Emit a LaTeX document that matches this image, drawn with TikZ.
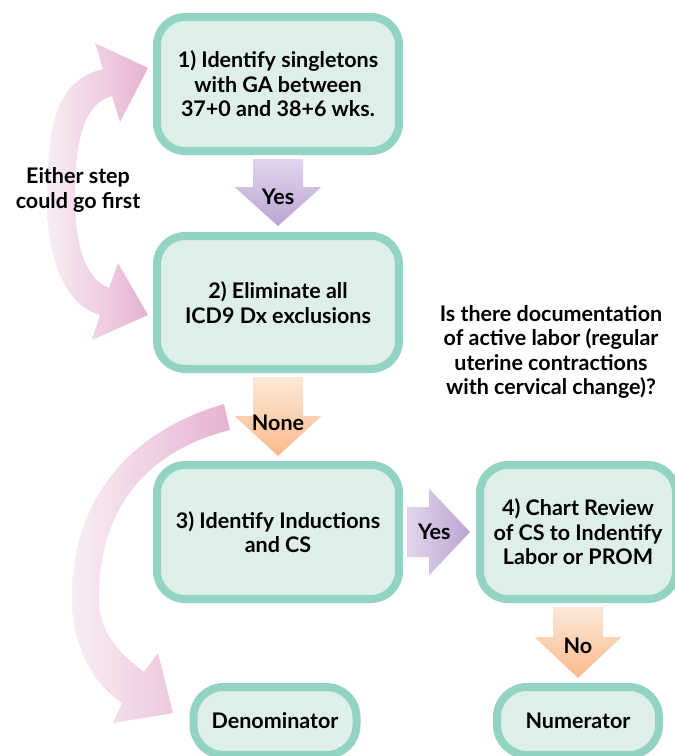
\documentclass[tikz,border=0pt]{standalone}
\usepackage{fontspec}
\setmainfont{Lato}
\usetikzlibrary{calc}

\definecolor{boxfill}{HTML}{DEEFE8}
\definecolor{boxline}{HTML}{93D3C3}
\definecolor{purpletop}{HTML}{E1D5EB}
\definecolor{purplebot}{HTML}{BBA4D2}
\definecolor{orangetop}{HTML}{FDE8D8}
\definecolor{orangebot}{HTML}{F9BA8A}
\definecolor{pinklight}{HTML}{F8EDF4}
\definecolor{pinkdark}{HTML}{E6B2D3}

\newcommand{\flowfont}{\fontsize{21.5}{24.5}\selectfont\bfseries}

\tikzset{
  stepbox/.style={draw=boxline, fill=boxfill, line width=8pt, rounded corners=28pt,
    inner sep=0pt, align=center, font=\flowfont},
  endbox/.style={stepbox, rounded corners=30pt},
  flowlabel/.style={align=center, font=\flowfont, inner sep=0pt}
}

\begin{document}
\begin{tikzpicture}[x=1pt, y=-1pt]
  \useasboundingbox (0,0) rectangle (675,756);
  \clip (0,0) rectangle (675,756);

  % steps
  \node[stepbox, minimum width=242pt, minimum height=134pt] (b1) at (278,84)
    {1) Identify singletons\\with GA between\\37+0 and 38+6 wks.};
  \node[stepbox, minimum width=242pt, minimum height=133pt] (b2) at (278,302.5)
    {2) Eliminate all\\ICD9 Dx exclusions};
  \node[stepbox, minimum width=242pt, minimum height=134pt] (b3) at (278,532)
    {3) Identify Inductions\\and CS};
  \node[stepbox, minimum width=196pt, minimum height=134pt] (b4) at (578,532)
    {4) Chart Review\\of CS to Indentify\\Labor or PROM};
  \node[endbox, minimum width=163pt, minimum height=68pt] (den) at (275,721) {Denominator};
  \node[endbox, minimum width=162pt, minimum height=68pt] (num) at (578,721) {Numerator};

  % block arrows between the steps
  \shade[top color=purpletop, bottom color=purplebot]
    ($(b1.south)+(-25,4)$) -- ++(0,28) -- ++(-18.5,0) -- ($(b2.north)+(0,-6)$)
    -- ($(b1.south)+(43.5,32)$) -- ++(-18.5,0) -- ($(b1.south)+(25,4)$) -- cycle;
  \shade[top color=orangetop, bottom color=orangebot]
    ($(b2.south)+(-25,4)$) -- ++(0,39) -- ++(-18.5,0) -- ($(b3.north)+(0,-5)$)
    -- ($(b2.south)+(43.5,43)$) -- ++(-18.5,0) -- ($(b2.south)+(25,4)$) -- cycle;
  \shade[left color=purpletop, right color=purplebot]
    ($(b3.east)+(4,-25)$) -- ++(22,0) -- ++(0,-18.5) -- ($(b4.west)+(-6,0)$)
    -- ($(b3.east)+(26,43.5)$) -- ++(0,-18.5) -- ($(b3.east)+(4,25)$) -- cycle;
  \shade[top color=orangetop, bottom color=orangebot]
    ($(b4.south)+(-25,4)$) -- ++(0,30) -- ++(-18.5,0) -- ($(num.north)+(0,-5)$)
    -- ($(b4.south)+(43.5,34)$) -- ++(-18.5,0) -- ($(b4.south)+(25,4)$) -- cycle;

  \node[flowlabel] (yes1) at ($(b1.south)!0.54!(b2.north)$) {Yes};
  \node[flowlabel] (none) at ($(b2.south)!0.57!(b3.north)$) {None};
  \node[flowlabel] (yes2) at ($(b3.east)!0.43!(b4.west)$) {Yes};
  \node[flowlabel] (no) at ($(b4.south)!0.53!(num.north)$) {No};

  % curved arrows on the left
  \shade[left color=pinklight, right color=pinkdark]
    (103,69) -- (95,43) -- (148,68) -- (120,122) -- (112,96)
    .. controls (85,104) and (75,135) .. (75,200)
    .. controls (75,250) and (88,280) .. (109,288)
    -- (118,263) -- (148,315) -- (92,340) -- (100,315)
    .. controls (65,305) and (47,260) .. (47,200)
    .. controls (47,115) and (60,80) .. (103,69) -- cycle;
  \shade[left color=pinklight, right color=pinkdark]
    (224,404) .. controls (140,428) and (72,490) .. (72,597)
    .. controls (72,650) and (95,685) .. (122,703)
    -- (113,723) -- (173,713) -- (158,653) -- (144,672)
    .. controls (115,650) and (99,630) .. (99,597)
    .. controls (99,505) and (150,450) .. (230,430) -- cycle;

  \node[flowlabel] (either) at (78,190) {Either step\\could go first};
  \node[flowlabel] (question) at (551,352)
    {Is there documentation\\of active labor (regular\\uterine contractions\\with cervical change)?};
\end{tikzpicture}
\end{document}
